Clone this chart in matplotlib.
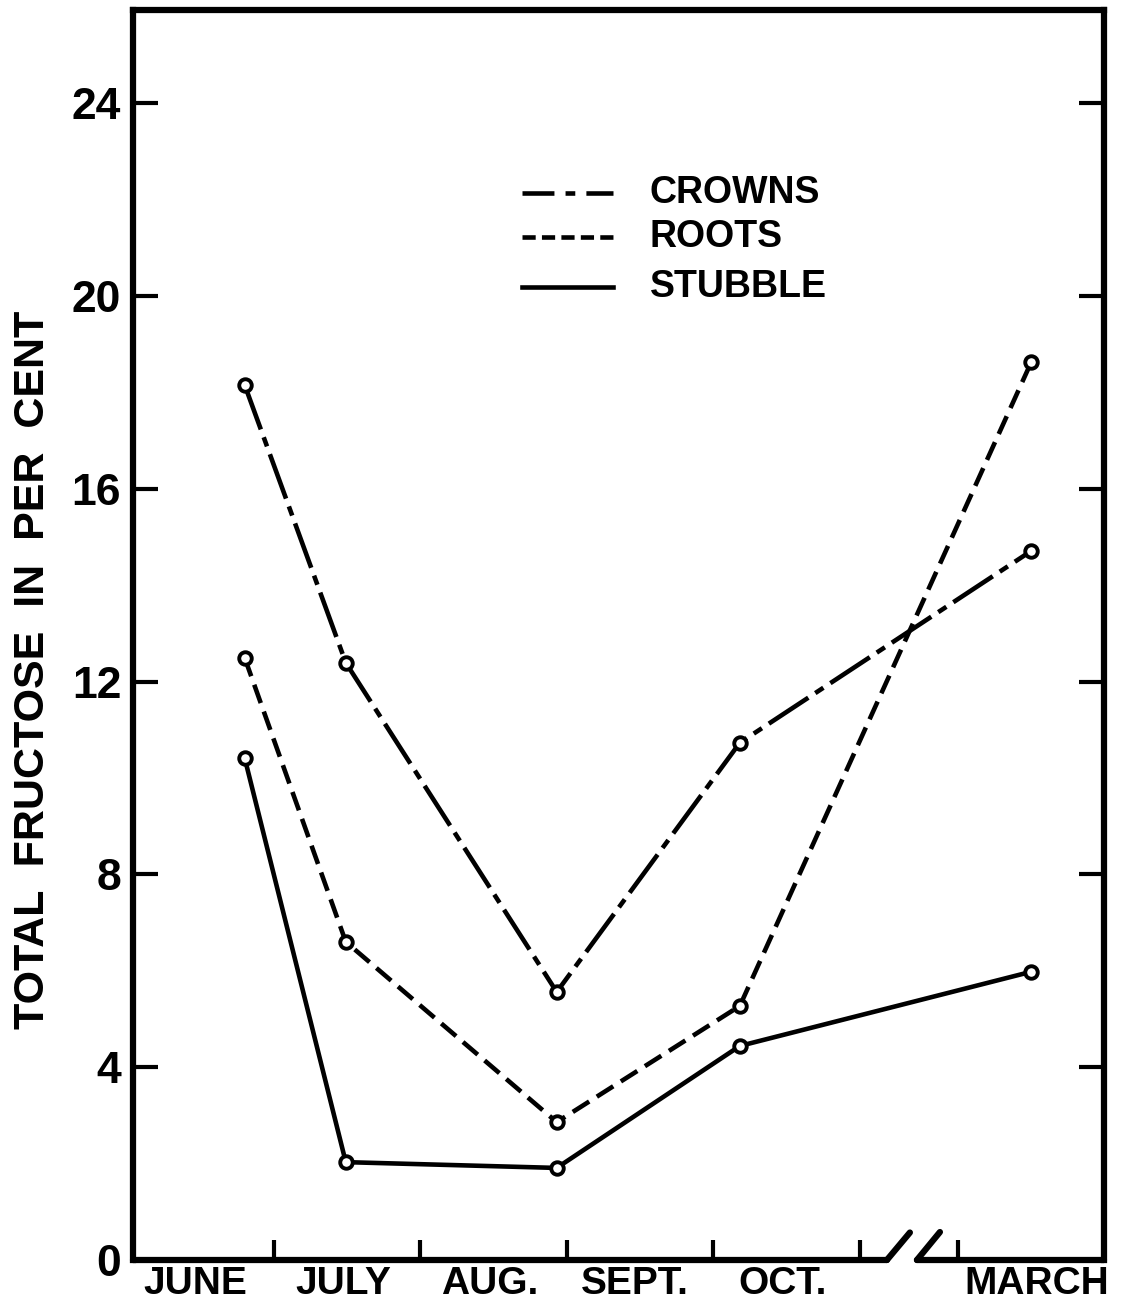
import numpy as np
import matplotlib.pyplot as plt

plt.rcParams['font.family'] = ['Liberation Sans', 'DejaVu Sans']
plt.rcParams['font.weight'] = 'bold'
plt.rcParams['lines.scale_dashes'] = False

# sampling dates (in month units, June = 0..1) and fructose values
months = ['JUNE', 'JULY', 'AUG.', 'SEPT.', 'OCT.', 'MARCH']
month_pos = [0.46, 1.47, 2.47, 3.46, 4.47, 6.21]
month_ticks = [1, 2, 3, 4, 5, 5.67]
sample_x = [0.80, 1.49, 2.93, 4.18, 6.17]
crowns = [18.15, 12.39, 5.56, 10.73, 14.71]
roots = [12.49, 6.60, 2.86, 5.27, 18.63]
stubble = [10.41, 2.03, 1.91, 4.44, 5.98]
yticks = [0, 4, 8, 12, 16, 20, 24]

W, H = 1124, 1312
fig = plt.figure(figsize=(W / 100, H / 100), dpi=100)
ax = fig.add_axes([133 / W, 52 / H, 971 / W, 1250 / H])
x0, x1 = 0.0375, 6.666
ax.set_xlim(x0, x1)
ax.set_ylim(0, 25.93)

lw = 3.3
crown_dash = (34, 6, 7, 6)
root_dash = (14, 6.5)
mk = dict(marker='o', ms=9, mfc='white', mec='black', mew=2.8)
ax.plot(sample_x, crowns, color='black', lw=lw, dashes=crown_dash, **mk)
ax.plot(sample_x, roots, color='black', lw=lw, dashes=root_dash, **mk)
ax.plot(sample_x, stubble, color='black', lw=lw, **mk)

# frame: bottom spine drawn by hand with the // break
for s in ['left', 'right', 'top']:
    ax.spines[s].set_linewidth(4.5)
ax.spines['bottom'].set_visible(False)
base = dict(color='black', lw=4.5, clip_on=False, solid_capstyle='round')
ax.plot([x0, 5.184], [0, 0], **base)
ax.plot([5.184, 5.341], [0, 0.57], **base)
ax.plot([5.389, 5.546], [0, 0.58], **base)
ax.plot([5.389, x1], [0, 0], **base)

ax.set_yticks(yticks)
ax.tick_params(axis='y', direction='in', length=18, width=3, labelsize=32,
               pad=8.5, right=True)
ax.set_xticks(month_ticks)
ax.set_xticklabels([])
ax.set_xticks(month_pos, minor=True)
ax.set_xticklabels(months, minor=True)
ax.tick_params(axis='x', which='major', direction='in', length=14.5, width=3)
ax.tick_params(axis='x', which='minor', length=0, labelsize=28, pad=4)

ax.set_ylabel('TOTAL  FRUCTOSE  IN  PER  CENT', fontsize=31,
              fontweight='bold', va='center')
ax.yaxis.set_label_coords(-0.103, 0.472)

# legend drawn as key lines + labels
legend_rows = [(0.8536, 'CROWNS', (23, 8, 7, 8)),
               (0.8184, 'ROOTS', (9.5, 4.5)),
               (0.7784, 'STUBBLE', None)]
for y, label, dash in legend_rows:
    kw = dict(color='black', lw=lw, transform=ax.transAxes)
    if dash is not None:
        kw['dashes'] = dash
    ax.plot([0.4006, 0.4943], [y, y], **kw)
    ax.text(0.532, y, label, transform=ax.transAxes, fontsize=27,
            va='center', ha='left')

fig.savefig('out.png', dpi=100)
